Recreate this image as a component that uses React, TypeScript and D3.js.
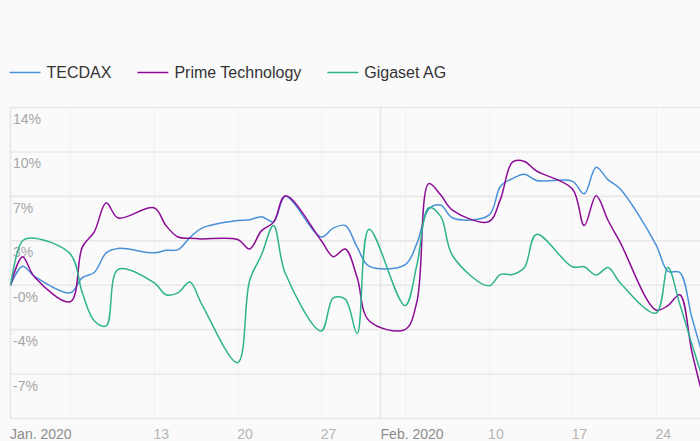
import React, { useRef, useEffect } from 'react';
import * as d3 from 'd3';

// trading days (Jan 1 = base day, all series at 0%)
const dates = [
  '2020-01-01', '2020-01-02', '2020-01-03', '2020-01-06', '2020-01-07', '2020-01-08', '2020-01-09', '2020-01-10',
  '2020-01-13', '2020-01-14', '2020-01-15', '2020-01-16', '2020-01-17',
  '2020-01-20', '2020-01-21', '2020-01-22', '2020-01-23', '2020-01-24',
  '2020-01-27', '2020-01-28', '2020-01-29', '2020-01-30', '2020-01-31',
  '2020-02-03', '2020-02-04', '2020-02-05', '2020-02-06', '2020-02-07',
  '2020-02-10', '2020-02-11', '2020-02-12', '2020-02-13', '2020-02-14',
  '2020-02-17', '2020-02-18', '2020-02-19', '2020-02-20', '2020-02-21',
  '2020-02-24', '2020-02-25', '2020-02-26', '2020-02-27', '2020-02-28',
];

const tecdax = [
  0, 1.5, 0.7, -0.6, 0.6, 1.0, 2.55, 2.9,
  2.55, 2.75, 2.8, 3.75, 4.5,
  5.1, 5.15, 5.4, 5.0, 7.0,
  3.8, 4.5, 4.7, 3.0, 1.5,
  1.6, 3.3, 6.0, 6.3, 5.3,
  5.5, 7.8, 8.4, 8.75, 8.25,
  8.2, 7.2, 9.3, 8.3, 7.6,
  3.2, 1.1, 1.0, -2.5, -5.8,
];

const primeTech = [
  0, 2.25, 0.65, -1.3, 3.0, 4.2, 6.5, 5.3,
  6.1, 4.7, 3.8, 3.7, 3.65,
  3.6, 2.85, 4.3, 4.95, 7.05,
  3.5, 2.25, 2.85, 0.6, -2.8,
  -3.5, -1.3, 8.0, 7.1, 5.9,
  5.0, 6.8, 9.7, 9.75, 9.0,
  7.6, 4.7, 7.05, 5.1, 3.4,
  -1.95, -1.6, -0.75, -5.2, -9.0,
];

const gigaset = [
  0, 3.5, 3.7, 2.45, -0.6, -2.8, -3.2, 1.25,
  0.2, -0.75, -0.6, 0.25, -1.5,
  -6.1, 0.35, 2.4, 4.7, 0.9,
  -3.6, -1.0, -1.1, -3.8, 4.4,
  -1.6, 1.6, 6.1, 5.4, 2.3,
  -0.05, 0.85, 0.85, 1.4, 4.0,
  1.45, 1.45, 0.8, 1.4, 0.2,
  -2.2, 1.4, -1.5, -4.6, -7.6,
];

const seriesNames = ['TECDAX', 'Prime Technology', 'Gigaset AG'];
const seriesColors = ['#4a90d9', '#8c0c97', '#2eb38f'];

const yTicks = [14, 10.5, 7, 3.5, 0, -3.5, -7, -10.5];
const yTickLabels = ['14%', '10%', '7%', '3%', '-0%', '-4%', '-7%', ''];

const xTickDates = ['2020-01-01', '2020-01-13', '2020-01-20', '2020-01-27', '2020-02-01', '2020-02-10', '2020-02-17', '2020-02-24'];
const xTickLabels = ['Jan. 2020', '13', '20', '27', 'Feb. 2020', '10', '17', '24'];
const weekLines = ['2020-01-06', '2020-01-13', '2020-01-20', '2020-01-27', '2020-02-03', '2020-02-10', '2020-02-17', '2020-02-24'];
const monthLines = ['2020-01-01', '2020-02-01'];

const FONT = '"Liberation Sans", Arial, Helvetica, sans-serif';

const App = () => {
  const svgRef = useRef<SVGSVGElement>(null);

  useEffect(() => {
    const width = 700;
    const height = 441;
    const parse = d3.utcParse('%Y-%m-%d');

    const svg = d3.select(svgRef.current);
    svg.selectAll('*').remove();
    svg.attr('width', width).attr('height', height);

    const plot = { left: 10.5, top: 107.5, bottom: 418.5 };

    const x = d3.scaleUtc()
      .domain([parse('2020-01-01')!, parse('2020-02-28')!])
      .range([10.6, 703.7]);

    const y = d3.scaleLinear()
      .domain([-10.5, 14])
      .range([plot.bottom, plot.top]);

    // week grid lines
    svg.append('g')
      .selectAll('line')
      .data(weekLines)
      .enter()
      .append('line')
      .attr('x1', d => Math.round(x(parse(d)!)) + 0.5)
      .attr('x2', d => Math.round(x(parse(d)!)) + 0.5)
      .attr('y1', plot.top)
      .attr('y2', plot.bottom)
      .attr('stroke', '#f1f1f1')
      .attr('stroke-width', 1);

    // month lines
    svg.append('g')
      .selectAll('line')
      .data(monthLines)
      .enter()
      .append('line')
      .attr('x1', d => Math.round(x(parse(d)!)) - 0.5)
      .attr('x2', d => Math.round(x(parse(d)!)) - 0.5)
      .attr('y1', plot.top)
      .attr('y2', plot.bottom)
      .attr('stroke', '#e6e6e6')
      .attr('stroke-width', 1.5);

    // horizontal grid
    svg.append('g')
      .selectAll('line')
      .data(yTicks)
      .enter()
      .append('line')
      .attr('x1', plot.left - 1)
      .attr('x2', width)
      .attr('y1', d => y(d))
      .attr('y2', d => y(d))
      .attr('stroke', '#e8e8e8')
      .attr('stroke-width', 1.6);

    // y labels (inside plot, below grid line)
    svg.append('g')
      .selectAll('text')
      .data(yTicks)
      .enter()
      .append('text')
      .attr('x', 13)
      .attr('y', d => y(d) + 16.5)
      .attr('fill', '#a6a6a6')
      .style('font-family', FONT)
      .style('font-size', '14px')
      .text((d, i) => yTickLabels[i]);

    // x labels
    svg.append('g')
      .selectAll('text')
      .data(xTickDates)
      .enter()
      .append('text')
      .attr('x', d => x(parse(d)!) - 0.5)
      .attr('y', 439)
      .attr('fill', (d, i) => (xTickLabels[i].includes('2020') ? '#8c8c8c' : '#b4b4b4'))
      .style('font-family', FONT)
      .style('font-size', '14px')
      .text((d, i) => xTickLabels[i]);

    // lines
    const allSeries = [tecdax, primeTech, gigaset];
    const line = d3.line<number>()
      .x((d, i) => x(parse(dates[i])!))
      .y(d => y(d))
      .curve(d3.curveCatmullRom.alpha(0.5));

    allSeries.forEach((values, si) => {
      svg.append('path')
        .datum(values)
        .attr('fill', 'none')
        .attr('stroke', seriesColors[si])
        .attr('stroke-width', 1.5)
        .attr('stroke-linejoin', 'round')
        .attr('d', line);
    });

    // legend
    const legend = svg.append('g');
    let lx = 9.5;
    seriesNames.forEach((name, i) => {
      legend.append('line')
        .attr('x1', lx)
        .attr('x2', lx + 31)
        .attr('y1', 72.5)
        .attr('y2', 72.5)
        .attr('stroke', seriesColors[i])
        .attr('stroke-width', 1.5);
      const t = legend.append('text')
        .attr('x', lx + 37)
        .attr('y', 78.2)
        .attr('fill', '#333333')
        .style('font-family', FONT)
        .style('font-size', '16px')
        .text(name);
      const w = (t.node() as SVGTextElement).getComputedTextLength();
      lx = lx + 37 + w + 26;
    });
  }, []);

  return (
    <div style={{ position: 'fixed', top: 0, left: 0, width: 700, height: 441, background: '#fafafa', overflow: 'hidden' }}>
      <svg ref={svgRef} style={{ display: 'block' }}></svg>
    </div>
  );
};

export default App;
